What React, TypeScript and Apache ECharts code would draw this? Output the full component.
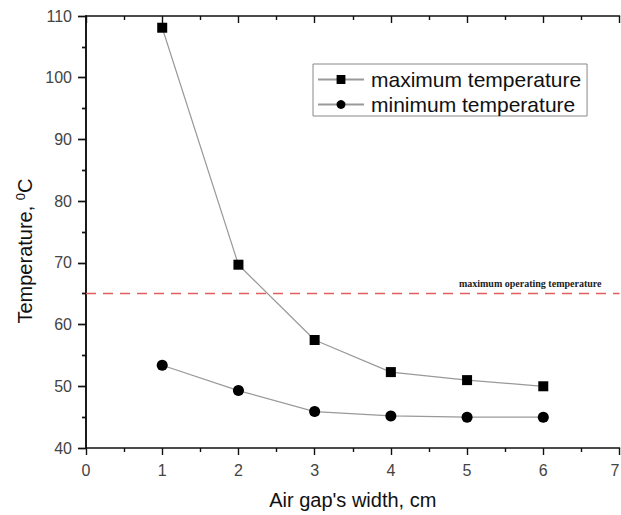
import React, { useEffect, useRef } from "react";
import * as echarts from "echarts";

// Air gap width (cm) and the resulting temperatures (°C)
const gapWidths = [1, 2, 3, 4, 5, 6];
const maxTemps = [108.1, 69.7, 57.5, 52.3, 51.0, 50.0];
const minTemps = [53.4, 49.3, 45.9, 45.2, 45.0, 45.0];
const operatingLimit = 65;

const xTicks = { min: 0, max: 7, interval: 1 };
const yTicks = { min: 40, max: 110, interval: 10 };

const FONT = "'Liberation Sans', Arial, sans-serif";

export default function App() {
  const ref = useRef<HTMLDivElement>(null);

  useEffect(() => {
    if (!ref.current) return;
    const chart = echarts.init(ref.current, null, { renderer: "svg" });

    const axisLine = { show: true, lineStyle: { color: "#111", width: 1.6 } };
    const tickStyle = { color: "#111", width: 1.4 };

    const pairs = (ys: number[]) => gapWidths.map((x, i) => [x, ys[i]]);

    chart.setOption({
      animation: false,
      backgroundColor: "#fff",
      grid: {
        left: 86,
        top: 16,
        right: 1.5,
        bottom: 67,
        containLabel: false,
        outerBoundsMode: "none",
      },
      legend: {
        orient: "vertical",
        left: 313,
        top: 64,
        padding: [5, 6, 1, 4],
        itemGap: 4,
        itemWidth: 46,
        itemHeight: 11,
        borderColor: "#888",
        borderWidth: 1,
        textStyle: { fontFamily: FONT, fontSize: 21, lineHeight: 21, color: "#111", padding: [0, 0, 0, 2] },
        data: ["maximum temperature", "minimum temperature"],
      },
      graphic: [
        {
          type: "text",
          x: 25,
          y: 251,
          rotation: Math.PI / 2,
          style: {
            text: "{t|Temperature, }{s|0}{t|C}",
            align: "center",
            verticalAlign: "middle",
            rich: {
              t: { fontFamily: FONT, fontSize: 20, fill: "#111" },
              s: { fontFamily: FONT, fontSize: 13, fill: "#111", verticalAlign: "top", padding: [0, 0, 10, 0] },
            },
          },
        },
      ],
      xAxis: [
        {
          type: "value",
          position: "bottom",
          ...xTicks,
          axisLine,
          axisTick: { show: true, inside: false, length: 7, lineStyle: tickStyle },
          minorTick: { show: true, splitNumber: 2, length: 4, lineStyle: tickStyle },
          splitLine: { show: false },
          axisLabel: {
            fontFamily: FONT,
            fontSize: 16,
            color: "#444",
            margin: 14,
            alignMaxLabel: "right",
          },
          name: "Air gap's width, cm",
          nameLocation: "middle",
          nameGap: 42,
          nameTextStyle: { fontFamily: FONT, fontSize: 20, color: "#111" },
        },
        {
          type: "value",
          position: "top",
          ...xTicks,
          axisLine,
          axisTick: { show: true, inside: true, length: 7, lineStyle: tickStyle },
          minorTick: { show: true, splitNumber: 2, length: 4, lineStyle: tickStyle },
          splitLine: { show: false },
          axisLabel: { show: false },
        },
      ],
      yAxis: [
        {
          type: "value",
          position: "left",
          ...yTicks,
          axisLine,
          axisTick: { show: true, inside: false, length: 8, lineStyle: tickStyle },
          minorTick: { show: true, splitNumber: 2, length: 4, lineStyle: tickStyle },
          splitLine: { show: false },
          axisLabel: { fontFamily: FONT, fontSize: 16, color: "#444", margin: 14 },
        },
        {
          type: "value",
          position: "right",
          ...yTicks,
          axisLine,
          axisTick: { show: true, inside: true, length: 8, lineStyle: tickStyle },
          minorTick: { show: true, splitNumber: 2, length: 4, lineStyle: tickStyle },
          splitLine: { show: false },
          axisLabel: { show: false },
        },
      ],
      series: [
        {
          name: "maximum temperature",
          type: "line",
          xAxisIndex: 0,
          yAxisIndex: 0,
          data: pairs(maxTemps),
          symbol: "rect",
          symbolSize: 10,
          itemStyle: { color: "#000" },
          lineStyle: { color: "#999", width: 1.2 },
          markLine: {
            silent: true,
            symbol: "none",
            data: [{ yAxis: operatingLimit }],
            lineStyle: { color: "#e35d5d", type: [10, 7], width: 1.3, opacity: 1 },
            itemStyle: { color: "#e35d5d" },
            label: {
              show: true,
              position: "insideEndTop",
              formatter: "maximum operating temperature",
              fontFamily: "'Liberation Serif', 'DejaVu Serif', serif",
              fontWeight: "bold",
              fontSize: 10,
              color: "#222",
              distance: [18, 5],
            },
          },
        },
        {
          name: "minimum temperature",
          type: "line",
          xAxisIndex: 0,
          yAxisIndex: 0,
          data: pairs(minTemps),
          symbol: "circle",
          symbolSize: 11,
          itemStyle: { color: "#000" },
          lineStyle: { color: "#999", width: 1.2 },
        },
      ],
    });

    return () => chart.dispose();
  }, []);

  return (
    <div
      ref={ref}
      style={{ position: "fixed", left: 0, top: 0, width: 621, height: 515 }}
    />
  );
}
